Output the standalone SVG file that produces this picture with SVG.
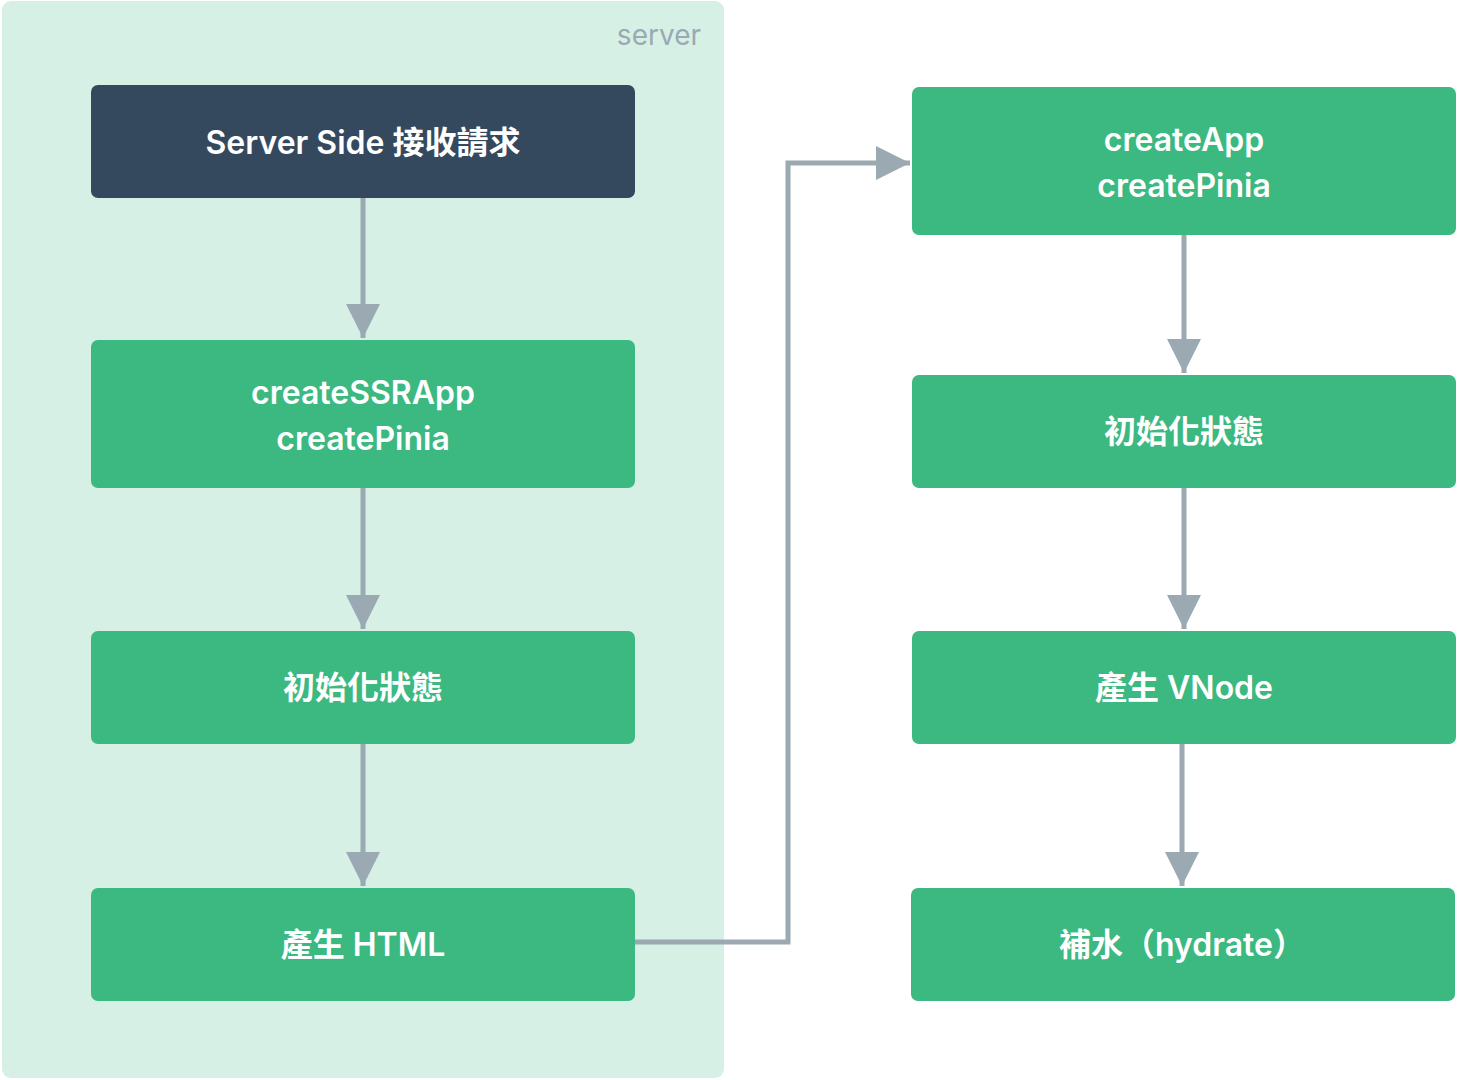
<svg xmlns="http://www.w3.org/2000/svg" width="1457" height="1080" viewBox="0 0 1457 1080">
<style>
.n{fill:#3cb881}
.d{fill:#34495e}
.t{font-family:Inter,"Noto Sans CJK TC",sans-serif;font-size:32px;font-weight:600;fill:#ffffff;text-anchor:middle;dominant-baseline:central}
.c{fill:none;stroke:#9aa9b2;stroke-width:5}
.lbl{font-family:Inter,sans-serif;font-size:28px;fill:#9aa9b2;text-anchor:end}
</style>
<defs>
<marker id="ah" viewBox="0 0 10 10" refX="10" refY="5" markerWidth="6.8" markerHeight="6.8" markerUnits="strokeWidth" orient="auto">
<path d="M0,0 L10,5 L0,10 Z" fill="#9aa9b2"/>
</marker>
</defs>
<g id="server">
<rect x="2" y="1" width="722" height="1077" rx="9" fill="#d7f0e5"/>
<text class="lbl" x="701" y="45">server</text>
</g>
<g id="connectors">
<path class="c" d="M363,198 V338" marker-end="url(#ah)"/>
<path class="c" d="M363,488 V629" marker-end="url(#ah)"/>
<path class="c" d="M363,744 V886" marker-end="url(#ah)"/>
<path class="c" d="M635,942 H788 V163 H910" marker-end="url(#ah)"/>
<path class="c" d="M1184,235 V373" marker-end="url(#ah)"/>
<path class="c" d="M1184,488 V629" marker-end="url(#ah)"/>
<path class="c" d="M1182,744 V886" marker-end="url(#ah)"/>
</g>
<g id="n1"><rect class="d" x="91" y="85" width="544" height="113" rx="7"/><text class="t" x="363" y="142">Server Side 接收請求</text></g>
<g id="n2"><rect class="n" x="91" y="340" width="544" height="148" rx="7"/><text class="t" x="363" y="392">createSSRApp</text><text class="t" x="363" y="438">createPinia</text></g>
<g id="n3"><rect class="n" x="91" y="631" width="544" height="113" rx="7"/><text class="t" x="363" y="687">初始化狀態</text></g>
<g id="n4"><rect class="n" x="91" y="888" width="544" height="113" rx="7"/><text class="t" x="363" y="944">產生 HTML</text></g>
<g id="n5"><rect class="n" x="912" y="87" width="544" height="148" rx="7"/><text class="t" x="1184" y="139">createApp</text><text class="t" x="1184" y="185">createPinia</text></g>
<g id="n6"><rect class="n" x="912" y="375" width="544" height="113" rx="7"/><text class="t" x="1184" y="431">初始化狀態</text></g>
<g id="n7"><rect class="n" x="912" y="631" width="544" height="113" rx="7"/><text class="t" x="1184" y="687">產生 VNode</text></g>
<g id="n8"><rect class="n" x="911" y="888" width="544" height="113" rx="7"/><text class="t" x="1182" y="944">補水（hydrate）</text></g>
</svg>
